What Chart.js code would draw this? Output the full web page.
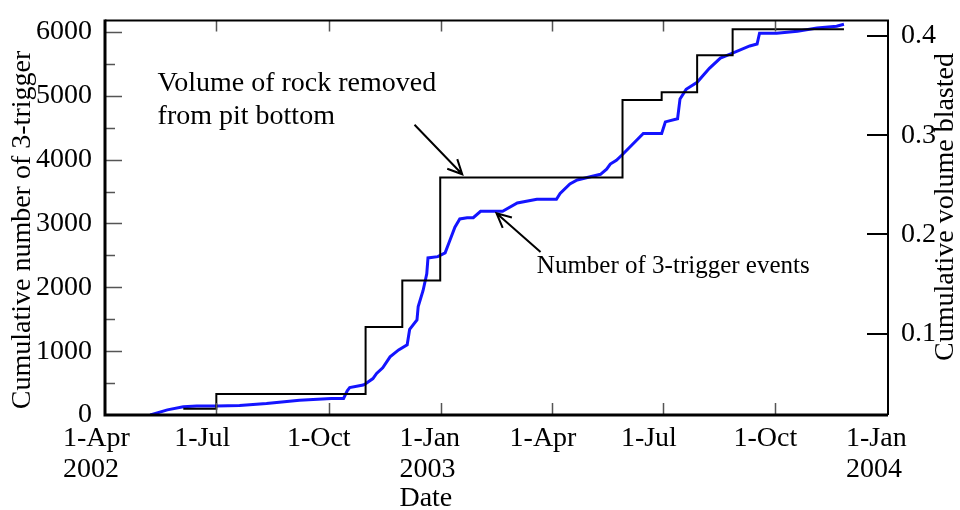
<!DOCTYPE html>
<html>
<head>
<meta charset="utf-8">
<title>Cumulative 3-trigger events and volume blasted</title>
<script src="https://cdn.jsdelivr.net/npm/chart.js@4.4.1/dist/chart.umd.min.js"></script>
<style>
  html, body { margin: 0; padding: 0; background: #fff; }
  canvas { display: block; }
</style>
</head>
<body>
<canvas id="chart" width="960" height="510"></canvas>
<script>
// x values are days counted from 1-Apr-2002
const START_DATE = '2002-04-01';

// Number of 3-trigger events (left axis)
const eventDays = [37, 51, 64, 75, 91, 110, 132, 159, 185, 195, 198, 200, 211, 213, 219, 222, 227, 233, 240, 247,
    249, 255, 256, 260, 263, 264, 272, 278, 281, 286, 290, 296, 301, 307, 325, 337, 353, 369, 372, 380,
    386, 405, 410, 413, 418, 423, 440, 455, 458, 468, 470, 475, 484, 494, 503, 512, 527, 533, 535, 549,
    566, 582, 598, 604];
const eventCounts = [0, 80, 130, 140, 140, 150, 180, 230, 260, 260, 380, 430, 470, 490, 570, 650, 740, 910, 1020, 1100,
    1340, 1490, 1700, 1950, 2210, 2460, 2480, 2540, 2690, 2940, 3070, 3090, 3090, 3190, 3190, 3320, 3380, 3380, 3470, 3620,
    3680, 3770, 3850, 3930, 3990, 4080, 4410, 4410, 4590, 4640, 4950, 5100, 5210, 5430, 5590, 5660, 5780, 5810, 5980, 5980,
    6010, 6060, 6090, 6120];

// Volume of rock removed from pit bottom (right axis), drawn as steps
const blastDays = [64, 91, 213, 243, 274, 423, 455, 484, 513, 604];
const blastVolumes = [0.0246, 0.0393, 0.1068, 0.1537, 0.2573, 0.3355, 0.3433, 0.3805, 0.4068, 0.4068];

// axis ticks
const tickDates = ['2002-04-01', '2002-07-01', '2002-10-01', '2003-01-01', '2003-04-01', '2003-07-01', '2003-10-01', '2004-01-01'];
const tickLabels = [['1-Apr', '2002'], '1-Jul', '1-Oct', ['1-Jan', '2003'], '1-Apr', '1-Jul', '1-Oct', ['1-Jan', '2004']];
const countTicks = [0, 1000, 2000, 3000, 4000, 5000, 6000];
const volumeTicks = [0.1, 0.2, 0.3, 0.4];

const FONT = "'Liberation Serif', 'Times New Roman', serif";

function dayOf(s) {
    const p = s.split('-').map(Number);
    const q = START_DATE.split('-').map(Number);
    return (Date.UTC(p[0], p[1] - 1, p[2]) - Date.UTC(q[0], q[1] - 1, q[2])) / 86400000;
}
const tickDays = tickDates.map(dayOf);

// annotations, placed in data units (x: day, y: event count)
const notes = [
    { lines: ['Volume of rock removed', 'from pit bottom'], x: 43, y: 5079, size: 28, lineGap: 33,
      arrow: { from: [253, 4546], to: [292, 3770] } },
    { lines: ['Number of 3-trigger events'], x: 353, y: 2218, size: 25, lineGap: 30,
      arrow: { from: [356, 2553], to: [320, 3161] } }
];

function drawArrow(ctx, x1, y1, x2, y2) {
    const a = Math.atan2(y2 - y1, x2 - x1);
    const len = 16, spread = 0.45;
    ctx.beginPath();
    ctx.moveTo(x1, y1);
    ctx.lineTo(x2, y2);
    ctx.moveTo(x2 - len * Math.cos(a - spread), y2 - len * Math.sin(a - spread));
    ctx.lineTo(x2, y2);
    ctx.lineTo(x2 - len * Math.cos(a + spread), y2 - len * Math.sin(a + spread));
    ctx.stroke();
}

const decorations = {
    id: 'decorations',
    afterDatasetsDraw(chart) {
        const ctx = chart.ctx;
        const area = chart.chartArea;
        const x = chart.scales.x, yc = chart.scales.yCount, yv = chart.scales.yVol;
        ctx.save();

        // tick marks pointing into the plot
        ctx.strokeStyle = '#555';
        ctx.lineWidth = 1.5;
        ctx.beginPath();
        tickDays.slice(1, -1).forEach(d => {
            const px = Math.round(x.getPixelForValue(d)) + 0.5;
            ctx.moveTo(px, area.bottom); ctx.lineTo(px, area.bottom - 12);
            ctx.moveTo(px, area.top); ctx.lineTo(px, area.top + 11);
        });
        for (let v = 500; v <= 6000; v += 500) {
            const py = Math.round(yc.getPixelForValue(v)) + 0.5;
            ctx.moveTo(area.left, py);
            ctx.lineTo(area.left + (v % 1000 === 0 ? 17 : 10), py);
        }
        ctx.stroke();
        ctx.strokeStyle = '#000';
        ctx.lineWidth = 2;
        ctx.beginPath();
        volumeTicks.forEach(v => {
            const py = Math.round(yv.getPixelForValue(v));
            ctx.moveTo(area.right, py); ctx.lineTo(area.right - 21, py);
        });
        ctx.stroke();

        // frame
        ctx.lineWidth = 2;
        ctx.beginPath();
        ctx.moveTo(area.left, area.top); ctx.lineTo(area.right, area.top);
        ctx.lineTo(area.right, area.bottom);
        ctx.stroke();
        ctx.lineWidth = 3;
        ctx.beginPath();
        ctx.moveTo(area.left, area.top - 1); ctx.lineTo(area.left, area.bottom);
        ctx.lineTo(area.right, area.bottom);
        ctx.stroke();

        // notes with arrows
        ctx.fillStyle = '#000';
        ctx.textAlign = 'left';
        ctx.textBaseline = 'alphabetic';
        ctx.lineWidth = 2;
        notes.forEach(n => {
            ctx.font = n.size + 'px ' + FONT;
            const tx = x.getPixelForValue(n.x), ty = yc.getPixelForValue(n.y);
            n.lines.forEach((t, i) => ctx.fillText(t, tx, ty + i * n.lineGap));
            drawArrow(ctx,
                x.getPixelForValue(n.arrow.from[0]), yc.getPixelForValue(n.arrow.from[1]),
                x.getPixelForValue(n.arrow.to[0]), yc.getPixelForValue(n.arrow.to[1]));
        });

        // axis titles
        ctx.font = '28px ' + FONT;
        ctx.textAlign = 'left';
        ctx.fillText('Date', x.getPixelForValue(dayOf('2003-01-01')) - 42, 506);
        ctx.textAlign = 'center';
        ctx.textBaseline = 'middle';
        ctx.save();
        ctx.translate(23, 230);
        ctx.rotate(-Math.PI / 2);
        ctx.fillText('Cumulative number of 3-trigger', 0, 0);
        ctx.restore();
        ctx.save();
        ctx.translate(946, 207);
        ctx.rotate(-Math.PI / 2);
        ctx.fillText('Cumulative volume blasted', 0, 0);
        ctx.restore();

        ctx.restore();
    }
};

const tickFont = { family: FONT, size: 28, lineHeight: 1.1 };

new Chart(document.getElementById('chart').getContext('2d'), {
    type: 'line',
    data: {
        datasets: [
            {
                label: 'Volume of rock removed from pit bottom',
                data: blastDays.map((d, i) => ({ x: d, y: blastVolumes[i] })),
                yAxisID: 'yVol',
                borderColor: '#000',
                borderWidth: 2,
                stepped: 'before',
                pointRadius: 0,
                order: 0
            },
            {
                label: 'Number of 3-trigger events',
                data: eventDays.map((d, i) => ({ x: d, y: eventCounts[i] })),
                yAxisID: 'yCount',
                borderColor: '#1414ff',
                borderWidth: 3,
                tension: 0,
                pointRadius: 0,
                order: 1
            }
        ]
    },
    options: {
        responsive: false,
        animation: false,
        layout: { padding: { top: 9, left: 0, right: 0, bottom: 0 } },
        plugins: { legend: { display: false }, tooltip: { enabled: false } },
        scales: {
            x: {
                type: 'linear',
                min: 0,
                max: dayOf('2004-01-01'),
                grid: { display: false },
                border: { display: false },
                afterBuildTicks: s => { s.ticks = tickDays.map(v => ({ value: v })); },
                afterFit: s => { s.height = 95; },
                ticks: {
                    callback: (v, i) => tickLabels[i],
                    autoSkip: false,
                    maxRotation: 0,
                    align: 'start',
                    labelOffset: -42,
                    padding: 0,
                    color: '#000',
                    font: tickFont
                }
            },
            yCount: {
                type: 'linear',
                position: 'left',
                min: 0,
                max: 6180,
                grid: { display: false },
                border: { display: false },
                afterBuildTicks: s => { s.ticks = countTicks.map(v => ({ value: v })); },
                afterFit: s => { s.width = 105; },
                ticks: { padding: 5, color: '#000', font: tickFont, callback: v => String(v) }
            },
            yVol: {
                type: 'linear',
                position: 'right',
                min: 0.0182,
                max: 0.4156,
                grid: { display: false },
                border: { display: false },
                afterBuildTicks: s => { s.ticks = volumeTicks.map(v => ({ value: v })); },
                afterFit: s => { s.width = 72; },
                ticks: { padding: 5, color: '#000', font: tickFont, callback: v => v.toFixed(1) }
            }
        }
    },
    plugins: [decorations]
});
</script>
</body>
</html>
